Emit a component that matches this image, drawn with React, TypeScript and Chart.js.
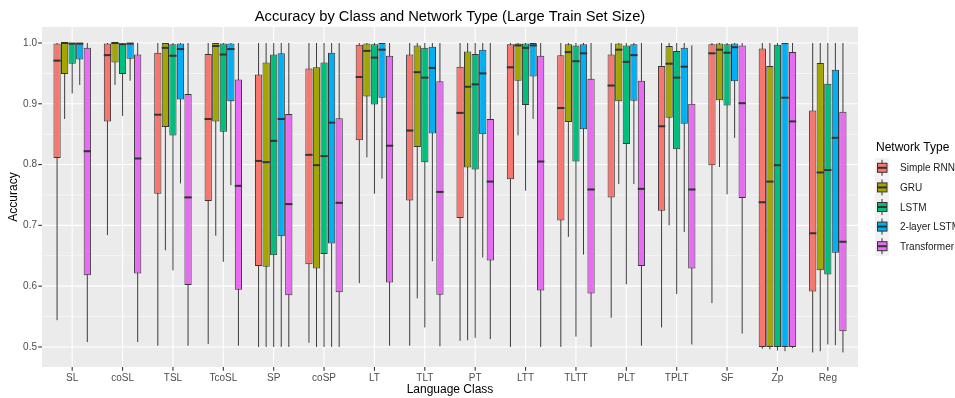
import React, { useEffect, useRef } from "react";
import { Chart, registerables } from "chart.js";

Chart.register(...registerables);

const FONT = '"Liberation Sans", Arial, Helvetica, sans-serif';

const categories = ["SL", "coSL", "TSL", "TcoSL", "SP", "coSP", "LT", "TLT", "PT", "LTT", "TLTT", "PLT", "TPLT", "SF", "Zp", "Reg"];
const seriesNames = ["Simple RNN", "GRU", "LSTM", "2-layer LSTM", "Transformer"];
const seriesColors = ["#F8766D", "#A3A500", "#00BF7D", "#00B0F6", "#E76BF3"];
const yTickValues = [0.5, 0.6, 0.7, 0.8, 0.9, 1.0];
const yMinorValues = [0.55, 0.65, 0.75, 0.85, 0.95];

// each row: [min, q1, median, q3, max] per language class
const simpleRnn = [
  [0.544, 0.811, 0.971, 0.999, 1.0],
  [0.684, 0.871, 0.980, 0.999, 1.0],
  [0.502, 0.752, 0.882, 0.984, 1.0],
  [0.505, 0.740, 0.875, 0.982, 1.0],
  [0.500, 0.633, 0.806, 0.948, 1.0],
  [0.507, 0.636, 0.816, 0.958, 1.0],
  [0.605, 0.840, 0.944, 0.997, 1.0],
  [0.502, 0.741, 0.856, 0.981, 1.0],
  [0.510, 0.712, 0.885, 0.961, 1.0],
  [0.500, 0.776, 0.960, 0.998, 1.0],
  [0.500, 0.708, 0.893, 0.980, 1.0],
  [0.548, 0.746, 0.930, 0.981, 1.0],
  [0.532, 0.724, 0.863, 0.962, 1.0],
  [0.572, 0.799, 0.983, 0.998, 1.0],
  [0.497, 0.500, 0.738, 0.991, 1.0],
  [0.491, 0.591, 0.687, 0.889, 1.0],
];

const gru = [
  [0.875, 0.949, 1.000, 1.000, 1.0],
  [0.931, 0.968, 1.000, 1.000, 1.0],
  [0.659, 0.862, 0.992, 1.000, 1.0],
  [0.683, 0.871, 0.995, 1.000, 1.0],
  [0.500, 0.632, 0.804, 0.968, 1.0],
  [0.500, 0.629, 0.799, 0.960, 1.0],
  [0.812, 0.912, 0.987, 0.999, 1.0],
  [0.580, 0.829, 0.952, 0.996, 1.0],
  [0.511, 0.795, 0.928, 0.986, 1.0],
  [0.848, 0.938, 0.996, 0.999, 1.0],
  [0.681, 0.870, 0.985, 0.998, 1.0],
  [0.768, 0.904, 0.989, 0.999, 1.0],
  [0.700, 0.877, 0.966, 0.995, 1.0],
  [0.796, 0.906, 0.989, 0.999, 1.0],
  [0.496, 0.500, 0.772, 0.962, 1.0],
  [0.493, 0.626, 0.787, 0.967, 1.0],
];

const lstm = [
  [0.917, 0.966, 0.999, 0.999, 1.0],
  [0.880, 0.949, 0.998, 0.998, 1.0],
  [0.626, 0.848, 0.979, 0.998, 1.0],
  [0.640, 0.854, 0.981, 0.999, 1.0],
  [0.500, 0.651, 0.839, 0.981, 1.0],
  [0.500, 0.653, 0.814, 0.968, 1.0],
  [0.752, 0.899, 0.976, 0.998, 1.0],
  [0.532, 0.804, 0.943, 0.992, 1.0],
  [0.515, 0.792, 0.932, 0.982, 1.0],
  [0.757, 0.898, 0.992, 0.999, 1.0],
  [0.517, 0.805, 0.970, 0.996, 1.0],
  [0.603, 0.834, 0.969, 0.996, 1.0],
  [0.587, 0.825, 0.943, 0.987, 1.0],
  [0.751, 0.897, 0.984, 0.998, 1.0],
  [0.494, 0.500, 0.799, 0.997, 1.0],
  [0.504, 0.619, 0.791, 0.933, 1.0],
];

const twoLayerLstm = [
  [0.931, 0.973, 0.999, 0.999, 1.0],
  [0.938, 0.974, 0.999, 0.999, 1.0],
  [0.769, 0.907, 0.990, 0.999, 1.0],
  [0.766, 0.904, 0.990, 0.999, 1.0],
  [0.500, 0.682, 0.875, 0.983, 1.0],
  [0.500, 0.670, 0.869, 0.984, 1.0],
  [0.777, 0.910, 0.989, 1.000, 1.0],
  [0.641, 0.851, 0.959, 0.994, 1.0],
  [0.647, 0.850, 0.950, 0.989, 1.0],
  [0.875, 0.945, 0.996, 1.000, 1.0],
  [0.652, 0.858, 0.983, 0.998, 1.0],
  [0.768, 0.905, 0.980, 0.998, 1.0],
  [0.689, 0.867, 0.961, 0.992, 1.0],
  [0.844, 0.937, 0.993, 0.999, 1.0],
  [0.493, 0.500, 0.910, 1.000, 1.0],
  [0.503, 0.655, 0.844, 0.956, 1.0],
];

const transformer = [
  [0.508, 0.618, 0.822, 0.992, 1.0],
  [0.508, 0.621, 0.810, 0.981, 1.0],
  [0.502, 0.602, 0.746, 0.916, 1.0],
  [0.502, 0.594, 0.765, 0.940, 1.0],
  [0.500, 0.585, 0.735, 0.883, 1.0],
  [0.500, 0.590, 0.737, 0.876, 1.0],
  [0.502, 0.606, 0.831, 0.979, 1.0],
  [0.501, 0.586, 0.755, 0.937, 1.0],
  [0.513, 0.642, 0.772, 0.875, 1.0],
  [0.500, 0.593, 0.805, 0.979, 1.0],
  [0.500, 0.588, 0.759, 0.941, 1.0],
  [0.502, 0.633, 0.760, 0.938, 1.0],
  [0.504, 0.629, 0.759, 0.900, 0.996],
  [0.522, 0.745, 0.901, 0.996, 1.0],
  [0.498, 0.500, 0.871, 0.985, 1.0],
  [0.491, 0.526, 0.673, 0.887, 1.0],
];

const seriesStats = [simpleRnn, gru, lstm, twoLayerLstm, transformer];

const boxplotPlugin = {
  id: "ggBoxplot",
  beforeDraw(chart: any) {
    const { ctx, chartArea, scales } = chart;
    const xs = scales.x;
    const ys = scales.y;
    const unit = (chartArea.right - chartArea.left) / categories.length;
    const pL = chartArea.left - 0.1 * unit;
    const pR = chartArea.right + 0.1 * unit;
    const pT = chartArea.top;
    const pB = chartArea.bottom;
    ctx.save();
    ctx.fillStyle = "#FFFFFF";
    ctx.fillRect(0, 0, chart.width, chart.height);
    ctx.fillStyle = "#EBEBEB";
    ctx.fillRect(pL, pT, pR - pL, pB - pT);
    ctx.strokeStyle = "#FFFFFF";
    ctx.lineWidth = 0.55;
    yMinorValues.forEach((v) => {
      const y = ys.getPixelForValue(v);
      ctx.beginPath();
      ctx.moveTo(pL, y);
      ctx.lineTo(pR, y);
      ctx.stroke();
    });
    ctx.lineWidth = 1.1;
    yTickValues.forEach((v) => {
      const y = ys.getPixelForValue(v);
      ctx.beginPath();
      ctx.moveTo(pL, y);
      ctx.lineTo(pR, y);
      ctx.stroke();
    });
    categories.forEach((_, i) => {
      const x = xs.getPixelForValue(i);
      ctx.beginPath();
      ctx.moveTo(x, pT);
      ctx.lineTo(x, pB);
      ctx.stroke();
    });
    // tick marks
    ctx.strokeStyle = "#333333";
    ctx.lineWidth = 1.1;
    yTickValues.forEach((v) => {
      const y = ys.getPixelForValue(v);
      ctx.beginPath();
      ctx.moveTo(pL - 3.7, y);
      ctx.lineTo(pL, y);
      ctx.stroke();
    });
    categories.forEach((_, i) => {
      const x = xs.getPixelForValue(i);
      ctx.beginPath();
      ctx.moveTo(x, pB);
      ctx.lineTo(x, pB + 3.7);
      ctx.stroke();
    });
    ctx.restore();
  },
  beforeDatasetsDraw(chart: any) {
    const { ctx, scales } = chart;
    const ys = scales.y;
    ctx.save();
    ctx.strokeStyle = "#3d3d3d";
    ctx.lineWidth = 1;
    seriesStats.forEach((stats, d) => {
      const meta = chart.getDatasetMeta(d);
      meta.data.forEach((el: any, i: number) => {
        const s = stats[i];
        ctx.beginPath();
        ctx.moveTo(el.x, ys.getPixelForValue(s[0]));
        ctx.lineTo(el.x, ys.getPixelForValue(s[4]));
        ctx.stroke();
      });
    });
    ctx.restore();
  },
  afterDatasetsDraw(chart: any) {
    const { ctx, scales } = chart;
    const ys = scales.y;
    ctx.save();
    ctx.strokeStyle = "#333333";
    ctx.lineWidth = 2;
    seriesStats.forEach((stats, d) => {
      const meta = chart.getDatasetMeta(d);
      meta.data.forEach((el: any, i: number) => {
        const y = ys.getPixelForValue(stats[i][2]);
        const h = el.width / 2;
        ctx.beginPath();
        ctx.moveTo(el.x - h, y);
        ctx.lineTo(el.x + h, y);
        ctx.stroke();
      });
    });
    ctx.restore();
  },
  afterDraw(chart: any) {
    const { ctx, chartArea } = chart;
    const unit = (chartArea.right - chartArea.left) / categories.length;
    const pL = chartArea.left - 0.1 * unit;
    const pR = chartArea.right + 0.1 * unit;
    const cx = (pL + pR) / 2;
    const cy = (chartArea.top + chartArea.bottom) / 2;
    ctx.save();
    ctx.fillStyle = "#000000";
    ctx.textBaseline = "alphabetic";
    ctx.textAlign = "center";
    ctx.font = `14.7px ${FONT}`;
    ctx.fillText("Accuracy by Class and Network Type (Large Train Set Size)", cx, 20.7);
    ctx.font = `12px ${FONT}`;
    ctx.fillText("Language Class", cx, 393);
    ctx.save();
    ctx.translate(17, cy);
    ctx.rotate(-Math.PI / 2);
    ctx.fillText("Accuracy", 0, 0);
    ctx.restore();

    // legend
    ctx.textAlign = "left";
    ctx.font = `12px ${FONT}`;
    ctx.fillText("Network Type", 876, 151.3);
    const rowH = 19.6;
    const c0 = 167.8;
    seriesNames.forEach((name, k) => {
      const c = c0 + rowH * k;
      ctx.fillStyle = "#F2F2F2";
      ctx.fillRect(875, c - rowH / 2, 14, rowH);
      ctx.strokeStyle = "#333333";
      ctx.lineWidth = 1;
      ctx.beginPath();
      ctx.moveTo(882, c - 8);
      ctx.lineTo(882, c + 8);
      ctx.stroke();
      ctx.fillStyle = seriesColors[k];
      ctx.fillRect(877.5, c - 4.5, 9.5, 9);
      ctx.strokeRect(877.5, c - 4.5, 9.5, 9);
      ctx.lineWidth = 2;
      ctx.beginPath();
      ctx.moveTo(877.5, c);
      ctx.lineTo(887, c);
      ctx.stroke();
      ctx.fillStyle = "#1A1A1A";
      ctx.font = `10px ${FONT}`;
      ctx.fillText(name, 900, c + 3.6);
    });
    ctx.restore();
  },
};

export default function App() {
  const canvasRef = useRef<HTMLCanvasElement | null>(null);

  useEffect(() => {
    const canvas = canvasRef.current;
    if (!canvas) return;
    Chart.defaults.font.family = FONT;
    const chart = new Chart(canvas, {
      type: "bar",
      data: {
        labels: categories,
        datasets: seriesStats.map((stats, i) => ({
          label: seriesNames[i],
          data: stats.map((s) => [s[1], s[3]]),
          backgroundColor: seriesColors[i],
          borderColor: "#363636",
          borderWidth: 1,
          borderSkipped: false,
          categoryPercentage: 0.75,
          barPercentage: 0.96,
        })),
      } as any,
      options: {
        responsive: false,
        animation: false,
        events: [],
        layout: { padding: { left: 0, right: 102, top: 27, bottom: 0 } },
        plugins: {
          legend: { display: false },
          tooltip: { enabled: false },
          title: { display: false },
        },
        scales: {
          x: {
            type: "category",
            offset: true,
            grid: { display: false, drawTicks: false },
            border: { display: false },
            ticks: {
              color: "#4D4D4D",
              font: { family: FONT, size: 10 },
              padding: 5,
              maxRotation: 0,
              autoSkip: false,
            },
            afterFit: (s: any) => {
              s.height = 31;
            },
          },
          y: {
            type: "linear",
            min: 0.467,
            max: 1.0263,
            grid: { display: false, drawTicks: false },
            border: { display: false },
            ticks: {
              color: "#4D4D4D",
              font: { family: FONT, size: 10 },
              padding: 10,
              callback: (v: any) => Number(v).toFixed(1),
            },
            afterBuildTicks: (s: any) => {
              s.ticks = yTickValues.map((v) => ({ value: v }));
            },
            afterFit: (s: any) => {
              s.width = 47;
            },
          },
        },
      } as any,
      plugins: [boxplotPlugin],
    });
    return () => chart.destroy();
  }, []);

  return (
    <div style={{ position: "fixed", left: 0, top: 0, width: 955, height: 398, background: "#fff" }}>
      <canvas ref={canvasRef} width={955} height={398} style={{ display: "block" }} />
    </div>
  );
}
